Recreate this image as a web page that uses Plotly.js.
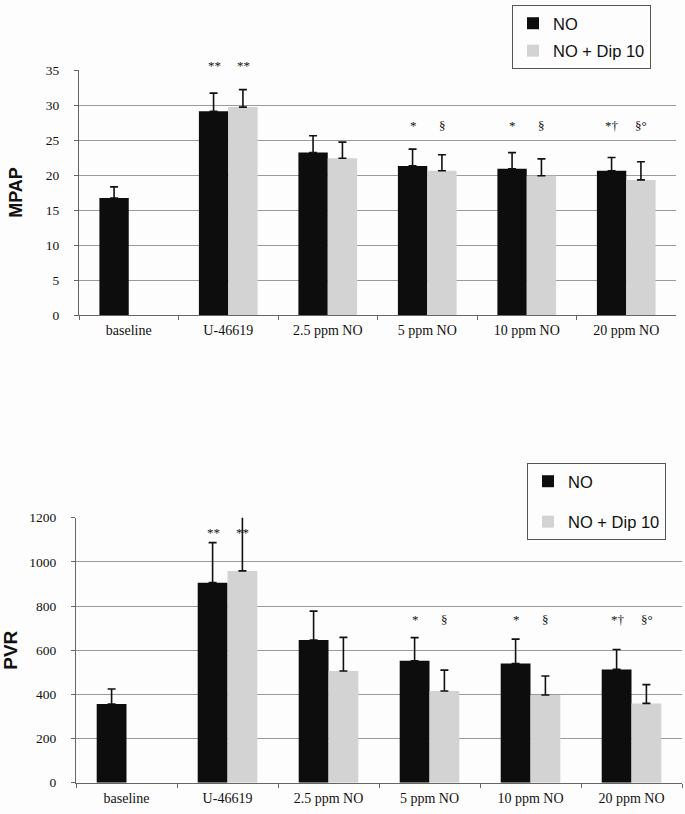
<!DOCTYPE html>
<html>
<head>
<meta charset="utf-8">
<script src="https://cdn.plot.ly/plotly-3.0.1.min.js"></script>
<style>
  html, body { margin: 0; padding: 0; background: #fdfdfd; }
  #chart { width: 685px; height: 814px; }
</style>
</head>
<body>
<div id="chart"></div>
<script>
// ---- Data ----
const categories = ["baseline", "U-46619", "2.5 ppm NO", "5 ppm NO", "10 ppm NO", "20 ppm NO"];

// MPAP (top panel)
const mpapNO      = [16.7, 29.1, 23.2, 21.3, 20.9, 20.6];
const mpapNOerr   = [1.6, 2.6, 2.4, 2.4, 2.3, 1.9];
const mpapDip     = [null, 29.7, 22.4, 20.6, 19.9, 19.3];
const mpapDipErr  = [null, 2.5, 2.3, 2.3, 2.4, 2.6];
const mpapMarksNO  = ["", "**", "", "*", "*", "*†"];
const mpapMarksDip = ["", "**", "", "§", "§", "§°"];
const mpapMarkY    = [null, 35.7, null, 27.1, 27.1, 27.1];
const mpapTicks    = [0, 5, 10, 15, 20, 25, 30, 35];
const mpapGrid     = [5, 10, 15, 20, 25, 30];

// PVR (bottom panel)
const pvrNO      = [356, 906, 646, 552, 540, 513];
const pvrNOerr   = [68, 181, 131, 105, 110, 90];
const pvrDip     = [null, 959, 506, 415, 397, 359];
const pvrDipErr  = [null, 250, 152, 95, 86, 85];
const pvrMarksNO  = ["", "**", "", "*", "*", "*†"];
const pvrMarksDip = ["", "**", "", "§", "§", "§°"];
const pvrMarkY    = [null, 1132, null, 740, 740, 740];
const pvrTicks    = [0, 200, 400, 600, 800, 1000, 1200];
const pvrGrid     = [200, 400, 600, 800, 1000];

const seriesNames = ["NO", "NO + Dip 10"];

// ---- Styles ----
const BLACK = "#0d0d0d";
const GREY = "#d3d3d3";
const W = 685, H = 814;
const serif = "Liberation Serif, Times New Roman, serif";
const sans = "Liberation Sans, Arial, sans-serif";
const MPAP_MAX = 35, PVR_MAX = 1200;

function errStyle(arr) {
  return { type: "data", array: arr.map(v => v == null ? 0 : v), arrayminus: arr.map(() => 0), symmetric: false,
           visible: true, color: "#111", thickness: 1.6, width: 4 };
}

const traces = [
  { type: "bar", name: seriesNames[0], x: categories, y: mpapNO, marker: { color: BLACK },
    error_y: errStyle(mpapNOerr), xaxis: "x", yaxis: "y", legend: "legend", legendgroup: "a" },
  { type: "bar", name: seriesNames[1], x: categories, y: mpapDip, marker: { color: GREY },
    error_y: errStyle(mpapDipErr), xaxis: "x", yaxis: "y", legend: "legend", legendgroup: "b" },
  { type: "bar", name: seriesNames[0], x: categories, y: pvrNO, marker: { color: BLACK },
    error_y: errStyle(pvrNOerr), xaxis: "x2", yaxis: "y2", legend: "legend2", legendgroup: "c" },
  { type: "bar", name: seriesNames[1], x: categories, y: pvrDip, marker: { color: GREY },
    error_y: errStyle(pvrDipErr), xaxis: "x2", yaxis: "y2", legend: "legend2", legendgroup: "d" },
  // invisible carriers for the gridline-only overlay axes
  { type: "scatter", x: [categories[0]], y: [0], xaxis: "x", yaxis: "y3", mode: "markers",
    marker: { opacity: 0 }, showlegend: false, hoverinfo: "skip" },
  { type: "scatter", x: [categories[0]], y: [0], xaxis: "x2", yaxis: "y4", mode: "markers",
    marker: { opacity: 0 }, showlegend: false, hoverinfo: "skip" }
];

// significance marks as annotations (placed in axis-domain fraction so they may sit above the range)
const annotations = [];
function addMarks(marksNO, marksDip, ys, xref, yref, ymax) {
  categories.forEach((c, i) => {
    if (ys[i] == null) return;
    const yy = ys[i] / ymax;
    if (marksNO[i]) annotations.push({ x: c, y: yy, xref, yref, yanchor: "middle", text: marksNO[i], showarrow: false,
      xshift: -14, font: { family: serif, size: 13, color: "#111" } });
    if (marksDip[i]) annotations.push({ x: c, y: yy, xref, yref, yanchor: "middle", text: marksDip[i], showarrow: false,
      xshift: 15, font: { family: serif, size: 13, color: "#111" } });
  });
}
addMarks(mpapMarksNO, mpapMarksDip, mpapMarkY, "x", "y domain", MPAP_MAX);
addMarks(pvrMarksNO, pvrMarksDip, pvrMarkY, "x2", "y2 domain", PVR_MAX);

const xaxisBase = {
  type: "category", showgrid: false, showline: true, linecolor: "#666", linewidth: 1,
  ticks: "outside", tickson: "boundaries", ticklen: 4, tickcolor: "#666",
  tickfont: { family: serif, size: 14, color: "#111" }, ticklabelstandoff: 2,
  fixedrange: true, automargin: false
};
const yaxisBase = {
  showgrid: false, showline: true, linecolor: "#666", linewidth: 1,
  ticks: "outside", ticklen: 4, tickcolor: "#666", zeroline: false, tickmode: "array",
  tickfont: { family: serif, size: 13.5, color: "#111" }, ticklabelstandoff: 12, automargin: false
};
const gridBase = {
  showgrid: true, gridcolor: "#9a9a9a", gridwidth: 1, showline: false, ticks: "",
  showticklabels: false, zeroline: false, tickmode: "array", automargin: false
};

const topDom = [(H - 315) / H, (H - 70) / H];
const botDom = [(H - 782.7) / H, (H - 517.7) / H];

const layout = {
  width: W, height: H,
  margin: { l: 0, r: 0, t: 0, b: 0 },
  paper_bgcolor: "#fdfdfd", plot_bgcolor: "#fdfdfd",
  barmode: "group", bargap: 0.41, bargroupgap: 0,
  showlegend: true,
  xaxis: Object.assign({}, xaxisBase, { domain: [79 / W, 676 / W], anchor: "y" }),
  yaxis: Object.assign({}, yaxisBase, { domain: topDom, range: [0, MPAP_MAX], tickvals: mpapTicks, anchor: "x",
    title: { text: "<b>MPAP</b>", font: { family: sans, size: 18, color: "#111" }, standoff: 18 } }),
  yaxis3: Object.assign({}, gridBase, { overlaying: "y", range: [0, MPAP_MAX], tickvals: mpapGrid, anchor: "x" }),
  xaxis2: Object.assign({}, xaxisBase, { domain: [76 / W, 682 / W], anchor: "y2" }),
  yaxis2: Object.assign({}, yaxisBase, { domain: botDom, range: [0, PVR_MAX], tickvals: pvrTicks, anchor: "x2",
    title: { text: "<b>PVR</b>", font: { family: sans, size: 19, color: "#111" }, standoff: 18 } }),
  yaxis4: Object.assign({}, gridBase, { overlaying: "y2", range: [0, PVR_MAX], tickvals: pvrGrid, anchor: "x2" }),
  legend: { x: 512 / W, y: 1 - 5 / H, xanchor: "left", yanchor: "top", bgcolor: "#fdfdfd",
    bordercolor: "#555", borderwidth: 1, font: { family: sans, size: 16.5, color: "#111" },
    tracegroupgap: 3, itemwidth: 30 },
  legend2: { x: 527 / W, y: 1 - 463 / H, xanchor: "left", yanchor: "top", bgcolor: "#fdfdfd",
    bordercolor: "#555", borderwidth: 1, font: { family: sans, size: 16.5, color: "#111" },
    tracegroupgap: 16, itemwidth: 30 },
  annotations
};

Plotly.newPlot("chart", traces, layout, { displayModeBar: false, staticPlot: true });
</script>
</body>
</html>
